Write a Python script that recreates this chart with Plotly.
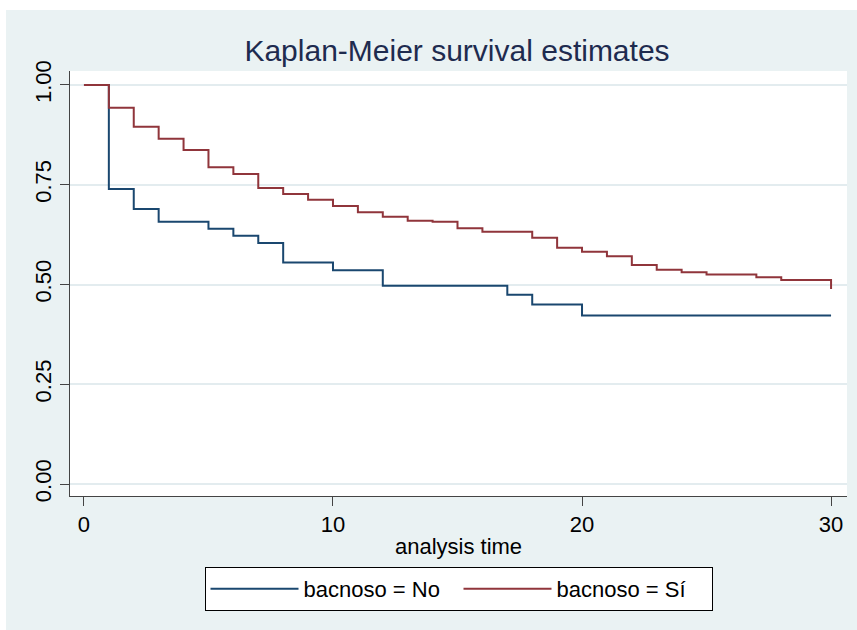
import plotly.graph_objects as go

# ---- data ----
time_no = [0, 1, 2, 3, 5, 6, 7, 8, 10, 12, 17, 18, 20, 30]
surv_no = [1.0, 0.739, 0.689, 0.657, 0.640, 0.622, 0.604, 0.555, 0.536,
           0.497, 0.474, 0.450, 0.422, 0.422]

time_si = [0, 1, 2, 3, 4, 5, 6, 7, 8, 9, 10, 11, 12, 13, 14, 15, 16, 18,
           19, 20, 21, 22, 23, 24, 25, 27, 28, 30]
surv_si = [1.0, 0.943, 0.895, 0.865, 0.837, 0.794, 0.777, 0.742, 0.727,
           0.7125, 0.697, 0.681, 0.670, 0.660, 0.657, 0.641, 0.632, 0.617,
           0.592, 0.582, 0.571, 0.549, 0.537, 0.531, 0.525, 0.518, 0.511,
           0.489]

x_ticks = [0, 10, 20, 30]
y_ticks = [0, 0.25, 0.5, 0.75, 1.0]
y_tick_labels = ["0.00", "0.25", "0.50", "0.75", "1.00"]

title_text = "Kaplan-Meier survival estimates"
x_title = "analysis time"
name_no = "bacnoso = No"
name_si = "bacnoso = Sí"

BLUE = "#1a476f"
RED = "#90353b"
BG = "#eaf2f3"
GRID = "#e3ecef"
FONT = "Liberation Sans, Arial, sans-serif"

fig = go.Figure()
fig.add_trace(go.Scatter(x=time_no, y=surv_no, mode="lines", name=name_no,
                         line=dict(color=BLUE, width=2, shape="hv")))
fig.add_trace(go.Scatter(x=time_si, y=surv_si, mode="lines", name=name_si,
                         line=dict(color=RED, width=2, shape="hv")))

W, H = 857, 630
ml, mr, mt, mb = 70, 10, 71, 134
pw, ph = W - ml - mr, H - mt - mb

# white strips at top / left of the outer region
fig.add_shape(type="rect", xref="paper", yref="paper",
              x0=-ml / pw, x1=(W - ml) / pw, y0=1 + (mt - 10) / ph, y1=1 + mt / ph + 0.01,
              fillcolor="white", line_width=0, layer="below")
fig.add_shape(type="rect", xref="paper", yref="paper",
              x0=-ml / pw - 0.01, x1=(6 - ml) / pw, y0=-mb / ph - 0.01, y1=1 + mt / ph + 0.01,
              fillcolor="white", line_width=0, layer="below")

fig.update_layout(
    width=W, height=H,
    margin=dict(l=ml, r=mr, t=mt, b=mb, pad=0),
    paper_bgcolor=BG, plot_bgcolor="white",
    font=dict(family=FONT, color="black", size=22),
    title=dict(text=title_text, x=457 / W, xanchor="center",
               y=1 - 50 / H, yanchor="middle", yref="container",
               font=dict(size=30, color="#1e2b4f", family=FONT)),
    showlegend=True,
    legend=dict(orientation="h", x=0.5, xanchor="center", y=-(567 - (H - mb)) / ph,
                yanchor="top", bgcolor="white", bordercolor="black", borderwidth=1,
                font=dict(size=22, family=FONT), itemwidth=88,
                traceorder="normal", entrywidth=150, entrywidthmode="pixels"),
    xaxis=dict(range=[-0.56, 30.64], tickvals=x_ticks, showgrid=False, zeroline=False,
               showline=True, linecolor="#444", linewidth=1, ticks="outside",
               ticklen=9, tickcolor="#444", tickfont=dict(size=22),
               title=dict(text=x_title, font=dict(size=22), standoff=2)),
    yaxis=dict(range=[-0.030, 1.035], tickvals=y_ticks, ticktext=y_tick_labels,
               showgrid=True, gridcolor=GRID, gridwidth=2, zeroline=False,
               showline=True, linecolor="#444", linewidth=1, ticks="outside",
               ticklen=9, tickcolor="#444", tickangle=-90, tickfont=dict(size=22)),
)

fig.write_html("out.html")
